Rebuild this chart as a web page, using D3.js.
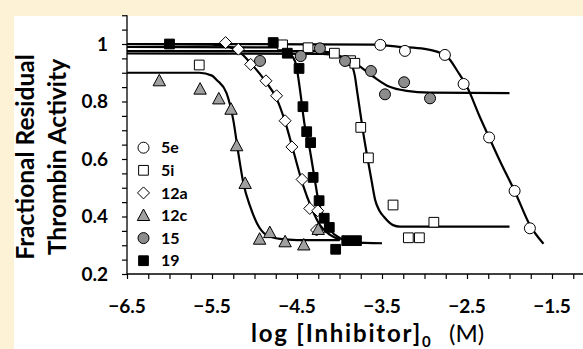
<!DOCTYPE html>
<html><head><meta charset="utf-8">
<script src="https://cdn.jsdelivr.net/npm/d3@7"></script>
<style>
html,body{margin:0;padding:0;background:#fdf1d6;}
svg{display:block;}
text{font-family:Lato,"Open Sans",sans-serif;}
</style></head>
<body><svg id="c" width="583" height="349"></svg>
<script>
// ---- data ----
const categories = ["5e","5i","12a","12c","15","19"];
const xTickValues = [-6.5,-5.5,-4.5,-3.5,-2.5,-1.5];
const yTickValues = [0.2,0.4,0.6,0.8,1.0];
const yTickLabels = ["0.2","0.4","0.6","0.8","1"];

// measured points (log[I], fractional residual activity)
const pts5e_x = [-3.52,-3.23,-2.76,-2.54,-2.24,-1.94,-1.76];
const pts5e_y = [0.997,0.976,0.962,0.861,0.675,0.489,0.359];
const pts5i_x = [-5.65,-4.67,-4.37,-4.06,-3.87,-3.82,-3.75,-3.66,-3.37,-3.19,-3.06,-2.89];
const pts5i_y = [0.927,0.997,0.987,0.968,0.942,0.933,0.71,0.604,0.44,0.326,0.326,0.38];
const pts12a_x = [-5.34,-5.19,-5.045,-4.865,-4.74,-4.64,-4.56,-4.44,-4.35,-4.256,-4.27];
const pts12a_y = [1.005,0.982,0.929,0.872,0.82,0.733,0.642,0.529,0.428,0.42,0.353];
const pts12c_x = [-6.12,-5.64,-5.42,-5.276,-5.21,-5.11,-4.94,-4.82,-4.64,-4.42,-4.25];
const pts12c_y = [0.872,0.843,0.809,0.773,0.646,0.515,0.321,0.344,0.312,0.301,0.355];
const pts15_x = [-4.935,-4.456,-4.23,-3.935,-3.63,-3.465,-3.24,-2.935];
const pts15_y = [0.941,0.958,0.985,0.941,0.906,0.825,0.867,0.811];
const pts19_x = [-6.0,-4.78,-4.614,-4.476,-4.43,-4.386,-4.34,-4.31,-4.24,-4.18,-4.12,-4.045,-3.915,-3.80];
const pts19_y = [1.0,1.005,0.968,0.915,0.782,0.695,0.657,0.536,0.455,0.394,0.362,0.286,0.316,0.316];

// fitted curves
const fit5e_x = [-6.5,-3.6,-3.3,-3.0,-2.75,-2.6,-2.5,-2.35,-2.24,-2.1,-1.94,-1.76,-1.6];
const fit5e_y = [1.0,0.998,0.99,0.983,0.96,0.90,0.851,0.747,0.675,0.585,0.489,0.37,0.305];
const fit5i_x = [-6.5,-4.2,-3.95,-3.87,-3.82,-3.79,-3.76,-3.72,-3.673,-3.62,-3.58,-3.53,-3.48,-3.37,-3.29,-2.0];
const fit5i_y = [0.967,0.966,0.955,0.935,0.89,0.83,0.77,0.69,0.608,0.52,0.457,0.42,0.40,0.37,0.365,0.365];
const fit12a_x = [-6.5,-5.5,-5.3,-5.19,-5.05,-4.87,-4.74,-4.64,-4.54,-4.43,-4.33,-4.23,-4.11,-3.99];
const fit12a_y = [1.0,0.998,0.99,0.975,0.935,0.87,0.81,0.73,0.625,0.51,0.43,0.37,0.336,0.318];
const fit12c_x = [-6.5,-5.65,-5.5,-5.445,-5.33,-5.25,-5.19,-5.13,-5.05,-4.97,-4.86,-4.7,-4.5,-4.0];
const fit12c_y = [0.90,0.90,0.89,0.875,0.83,0.736,0.62,0.515,0.434,0.376,0.336,0.322,0.318,0.318];
const fit15_x = [-6.5,-4.3,-4.1,-3.99,-3.8,-3.6,-3.41,-3.21,-2.94,-2.0];
const fit15_y = [0.975,0.975,0.97,0.956,0.93,0.886,0.851,0.837,0.831,0.829];
const fit19_x = [-6.5,-4.75,-4.62,-4.55,-4.51,-4.46,-4.41,-4.37,-4.29,-4.25,-4.19,-4.11,-3.99,-3.85,-3.5];
const fit19_y = [0.99,0.988,0.975,0.955,0.927,0.83,0.718,0.666,0.527,0.457,0.40,0.353,0.324,0.31,0.307];

// ---- build ----
const zip = (xs, ys) => xs.map((x,i)=>({x, y: ys[i]}));
const series = [
  {name:"5e", shape:"circle", fill:"#ffffff", pts: zip(pts5e_x,pts5e_y), fit: zip(fit5e_x,fit5e_y)},
  {name:"5i", shape:"square", fill:"#ffffff", pts: zip(pts5i_x,pts5i_y), fit: zip(fit5i_x,fit5i_y)},
  {name:"12a", shape:"diamond", fill:"#ffffff", pts: zip(pts12a_x,pts12a_y), fit: zip(fit12a_x,fit12a_y)},
  {name:"12c", shape:"triangle", fill:"#a0a0a0", pts: zip(pts12c_x,pts12c_y), fit: zip(fit12c_x,fit12c_y)},
  {name:"15", shape:"circle", fill:"#8c8c8c", pts: zip(pts15_x,pts15_y), fit: zip(fit15_x,fit15_y)},
  {name:"19", shape:"square", fill:"#000000", pts: zip(pts19_x,pts19_y), fit: zip(fit19_x,fit19_y)}
];

const svg = d3.select("#c");
svg.append("rect").attr("x",14).attr("y",16).attr("width",583-14).attr("height",349-16).attr("fill","#ffffff");

const x = d3.scaleLinear().domain([-6.5,-1.5]).range([127,552]);
const y = d3.scaleLinear().domain([0.2,1.1]).range([274,15.25]);

// axes
const yMinor = d3.range(0.2,1.1001,0.05);
const yAxis = d3.axisLeft(y).tickValues(yMinor).tickSize(5).tickFormat("");
const gy = svg.append("g").attr("transform","translate(127,0)").call(yAxis);
gy.select(".domain").remove();
gy.selectAll(".tick line").attr("stroke","#000").attr("stroke-width",1.2);
svg.append("line").attr("x1",127).attr("x2",127).attr("y1",y(1.1)).attr("y2",y(0.2)+0.5).attr("stroke","#000").attr("stroke-width",1.3);
svg.selectAll(".ylab").data(yTickValues).enter().append("text")
  .attr("x",108).attr("y",d=>y(d)).attr("dy","0.36em").attr("text-anchor","end")
  .attr("font-size",19).attr("font-weight","bold").text((d,i)=>yTickLabels[i]);

const xMinor = d3.range(-6.5,-1.1,0.25);
const xAxis = d3.axisBottom(x).tickValues(xMinor).tickSize(5).tickFormat("");
const gx = svg.append("g").attr("transform","translate(0,274)").call(xAxis);
gx.select(".domain").remove();
gx.selectAll(".tick line").attr("stroke","#000").attr("stroke-width",1.2);
svg.append("line").attr("x1",127).attr("x2",583).attr("y1",274).attr("y2",274).attr("stroke","#000").attr("stroke-width",1.3);
svg.selectAll(".xlab").data(xTickValues).enter().append("text")
  .attr("x",d=>x(d)).attr("y",306).attr("dy","0.36em").attr("text-anchor","middle")
  .attr("font-size",19).attr("font-weight","bold").text(d=>d3.format(".1f")(d));

// axis titles
const yt = svg.append("text").attr("transform","translate(34,157) rotate(-90)")
  .attr("text-anchor","middle").attr("font-size",24.5).attr("font-weight","bold");
yt.append("tspan").attr("x",0).attr("y",0).text("Fractional Residual");
yt.append("tspan").attr("x",0).attr("y",32).text("Thrombin Activity");

const xt = svg.append("text").attr("x",251).attr("y",342).attr("font-size",24);
xt.append("tspan").attr("font-weight","bold").attr("letter-spacing",1.8).text("log [Inhibitor]");
xt.append("tspan").attr("font-weight","bold").attr("font-size",15).attr("dy",5).text("0");
xt.append("tspan").attr("dy",-5).text("\u00a0\u00a0\u00a0(M)");

// curves
const line = d3.line().x(d=>x(d.x)).y(d=>y(d.y)).curve(d3.curveMonotoneX);
svg.append("g").selectAll("path").data(series).enter().append("path")
  .attr("d",d=>line(d.fit)).attr("fill","none").attr("stroke","#000").attr("stroke-width",2.2);

// markers
function sym(shape){
  if(shape==="circle") return d3.symbol(d3.symbolCircle, 95)();
  if(shape==="square") return d3.symbol(d3.symbolSquare, 95)();
  if(shape==="diamond") return "M0,-6L6,0L0,6L-6,0Z";
  if(shape==="triangle") return "M0,-6.5L6.2,5L-6.2,5Z";
}
series.forEach(s=>{
  svg.append("g").selectAll("path").data(s.pts).enter().append("path")
    .attr("d",sym(s.shape)).attr("transform",d=>`translate(${x(d.x)},${y(d.y)})`)
    .attr("fill",s.fill).attr("stroke","#000").attr("stroke-width",1);
});

// legend
const lg = svg.append("g");
series.forEach((s,i)=>{
  const cy = 147.7 + i*22.6;
  lg.append("path").attr("d",sym(s.shape)).attr("transform",`translate(143.5,${cy})`)
    .attr("fill",s.fill).attr("stroke","#000").attr("stroke-width",1);
  lg.append("text").attr("x",161).attr("y",cy).attr("dy","0.36em").attr("font-size",16)
    .attr("font-weight","bold").text(categories[i]);
});
</script></body></html>
